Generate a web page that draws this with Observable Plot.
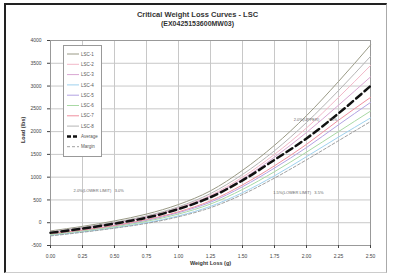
<!DOCTYPE html>
<html><head><meta charset="utf-8">
<script src="https://cdn.jsdelivr.net/npm/d3@7"></script>
<script src="https://cdn.jsdelivr.net/npm/@observablehq/plot@0.6"></script>
<style>
body{margin:0;background:#fff;font-family:"Liberation Sans",Arial,sans-serif;}
#box{position:absolute;left:4px;top:3px;width:380px;height:267px;border-left:2px solid #222;border-top:2px solid #222;border-right:1px solid #aaa;border-bottom:1px solid #ccc;}
.t{position:absolute;left:0;width:395px;text-align:center;font-weight:bold;color:#333;}
#chart{position:absolute;left:0;top:30px;}
#legend{position:absolute;left:63px;top:45px;width:37px;height:110px;border:1px solid #999;background:#fff;}
</style></head><body>
<div id="box"></div>
<div class="t" style="top:10px;font-size:7.5px;">Critical Weight Loss Curves - LSC</div>
<div class="t" style="top:20px;font-size:7px;">(EX0425153600MW03)</div>
<div id="chart"></div>
<div id="legend"></div>
<script>
const xs = [0, 0.25, 0.5, 0.75, 1.0, 1.25, 1.5, 1.75, 2.0, 2.25, 2.5];
const xTicks = [0, 0.25, 0.5, 0.75, 1.0, 1.25, 1.5, 1.75, 2.0, 2.25, 2.5];
const yTicks = [-500, 0, 500, 1000, 1500, 2000, 2500, 3000, 3500, 4000];
const seriesNames = ["LSC-1", "LSC-2", "LSC-3", "LSC-4", "LSC-5", "LSC-6", "LSC-7", "LSC-8"];
const seriesColors = ["#9a9a86", "#f2b8c8", "#d9a6d2", "#9fd2ee", "#b3a3e3", "#a9d9a5", "#ef8f9f", "#b5b5b5"];
const s1 = [-180, -80, 40, 190, 400, 700, 1150, 1700, 2350, 3100, 3900];
const s2 = [-200, -110, 0, 140, 330, 600, 1000, 1500, 2080, 2750, 3450];
const s3 = [-210, -120, -20, 120, 310, 580, 960, 1440, 1980, 2580, 3200];
const s4 = [-280, -200, -110, 0, 150, 360, 660, 1030, 1450, 1880, 2300];
const s5 = [-250, -170, -70, 50, 220, 450, 790, 1200, 1650, 2150, 2640];
const s6 = [-260, -180, -90, 30, 190, 410, 730, 1120, 1550, 2000, 2450];
const s7 = [-240, -160, -60, 70, 240, 480, 830, 1250, 1720, 2250, 2750];
const s8 = [-200, -100, 10, 150, 350, 640, 1060, 1580, 2200, 2900, 3650];
const average = [-220, -130, -20, 110, 300, 560, 930, 1380, 1850, 2400, 3000];
const margin = [-290, -210, -120, -15, 130, 330, 620, 980, 1380, 1800, 2220];
const annotations = [
  {x: 0.18, y: 700, text: "2.0%(LOWER LIMIT)   3.0%"},
  {x: 1.74, y: 660, text: "1.5%(LOWER LIMIT)   3.5%"},
  {x: 1.9, y: 2270, text: "2.0%(UPPER)        3.5%"}
];

const all = [s1, s2, s3, s4, s5, s6, s7, s8];
const rows = [];
all.forEach((s, i) => s.forEach((v, j) => rows.push({series: seriesNames[i], x: xs[j], y: v})));
const avgRows = average.map((v, j) => ({x: xs[j], y: v}));
const marRows = margin.map((v, j) => ({x: xs[j], y: v}));

const plot = Plot.plot({
  width: 395, height: 245,
  marginLeft: 50, marginRight: 25, marginTop: 10, marginBottom: 30,
  style: {fontSize: "5px", fontFamily: "Liberation Sans, Arial, sans-serif", color: "#444", background: "transparent"},
  x: {domain: [0, 2.5]},
  y: {domain: [-500, 4000]},
  color: {domain: seriesNames, range: seriesColors},
  marks: [
    Plot.gridX(xTicks, {stroke: "#c8c8c8", strokeOpacity: 1}),
    Plot.gridY(yTicks, {stroke: "#c8c8c8", strokeOpacity: 1}),
    Plot.frame({stroke: "#999"}),
    Plot.axisX(xTicks, {tickFormat: d3.format(".2f"), tickSize: 3, label: null, fontSize: 5}),
    Plot.axisY(yTicks, {tickSize: 3, label: null, fontSize: 5, tickFormat: d => String(d)}),
    Plot.line(rows, {x: "x", y: "y", z: "series", stroke: "series", strokeWidth: 1, curve: "monotone-x"}),
    Plot.line(marRows, {x: "x", y: "y", stroke: "#888", strokeWidth: 0.8, strokeDasharray: "3,2", curve: "monotone-x"}),
    Plot.line(avgRows, {x: "x", y: "y", stroke: "#111", strokeWidth: 2.5, strokeDasharray: "7,4", curve: "monotone-x"}),
    Plot.text(annotations, {x: "x", y: "y", text: "text", textAnchor: "start", fill: "#666", fontSize: 4}),
    Plot.text(["Weight Loss (g)"], {frameAnchor: "bottom", dy: 19, fontWeight: "bold", fontSize: 5.5, fill: "#333"}),
    Plot.text(["Load (lbs)"], {frameAnchor: "left", rotate: -90, dx: -27, fontWeight: "bold", fontSize: 5.5, fill: "#333"})
  ]
});
document.getElementById("chart").appendChild(plot);

// legend
const legItems = seriesNames.map((n, i) => ({name: n, color: seriesColors[i], width: 1, dash: null}))
  .concat([{name: "Average", color: "#111", width: 2.5, dash: "4,2"}, {name: "Margin", color: "#888", width: 0.8, dash: "3,2"}]);
const lsvg = d3.select("#legend").append("svg").attr("width", 37).attr("height", 110);
legItems.forEach((d, i) => {
  const y = 8 + i * 10.3;
  lsvg.append("line").attr("x1", 3).attr("x2", 15).attr("y1", y).attr("y2", y)
    .attr("stroke", d.color).attr("stroke-width", d.width).attr("stroke-dasharray", d.dash);
  lsvg.append("text").attr("x", 17).attr("y", y + 1.6).attr("font-size", 4.5)
    .attr("fill", "#555").text(d.name);
});
</script>
</body></html>
